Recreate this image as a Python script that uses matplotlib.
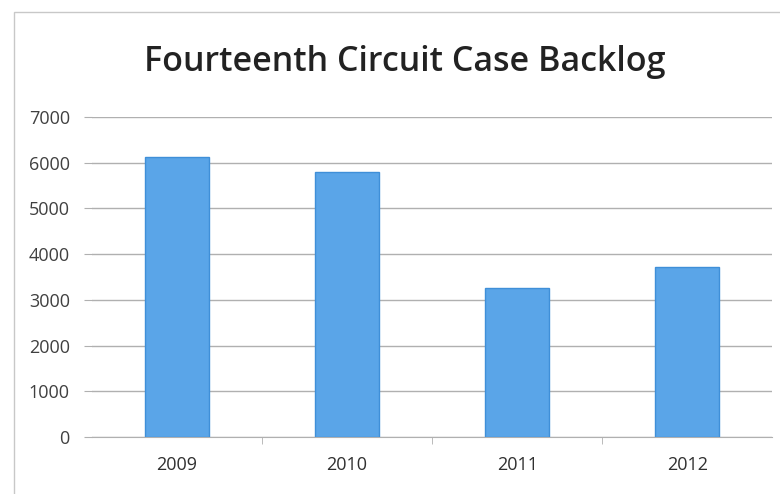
import numpy as np
import matplotlib.pyplot as plt

# datos
years = ['2009', '2010', '2011', '2012']
backlog = [6120, 5800, 3250, 3720]
yticks = [0, 1000, 2000, 3000, 4000, 5000, 6000, 7000]

plt.rcParams['font.family'] = ['Open Sans', 'DejaVu Sans']

fig = plt.figure(figsize=(7.8, 4.94), dpi=100)
ax = fig.add_axes([0.118, 0.1154, 0.872, 0.6476])

x = np.arange(len(years))
ax.bar(x, backlog, width=0.38, color='#5aa5e8', edgecolor='#3f8fd8', linewidth=1, zorder=3)

ax.set_xlim(-0.5, len(years) - 0.5)
ax.set_ylim(0, 7000)
ax.set_yticks(yticks)
ax.set_yticklabels([str(t) for t in yticks], fontsize=13, color='#404040')
ax.set_xticks(x)
ax.set_xticklabels(years, fontsize=13, color='#303030')
ax.set_xticks(np.arange(0.5, len(years) - 0.5, 1), minor=True)

ax.grid(axis='y', color='#b0b0b0', linewidth=1, zorder=0)
for s in ['top', 'right', 'left']:
    ax.spines[s].set_visible(False)
ax.spines['bottom'].set_color('#b0b0b0')
ax.tick_params(axis='y', length=6, color='#b0b0b0', pad=10)
ax.tick_params(axis='x', which='major', length=0, pad=14)
ax.tick_params(axis='x', which='minor', length=5, color='#b0b0b0')

fig.text(0.519, 0.874, 'Fourteenth Circuit Case Backlog', ha='center', va='center',
         fontsize=24.5, fontweight='semibold', color='#222222')

# marco del grafico
fig.add_artist(plt.Rectangle((0.018, -0.01), 1.0, 0.985, transform=fig.transFigure,
                             fill=False, edgecolor='#c8c8c8', linewidth=1))

fig.savefig('out.png', dpi=100)
